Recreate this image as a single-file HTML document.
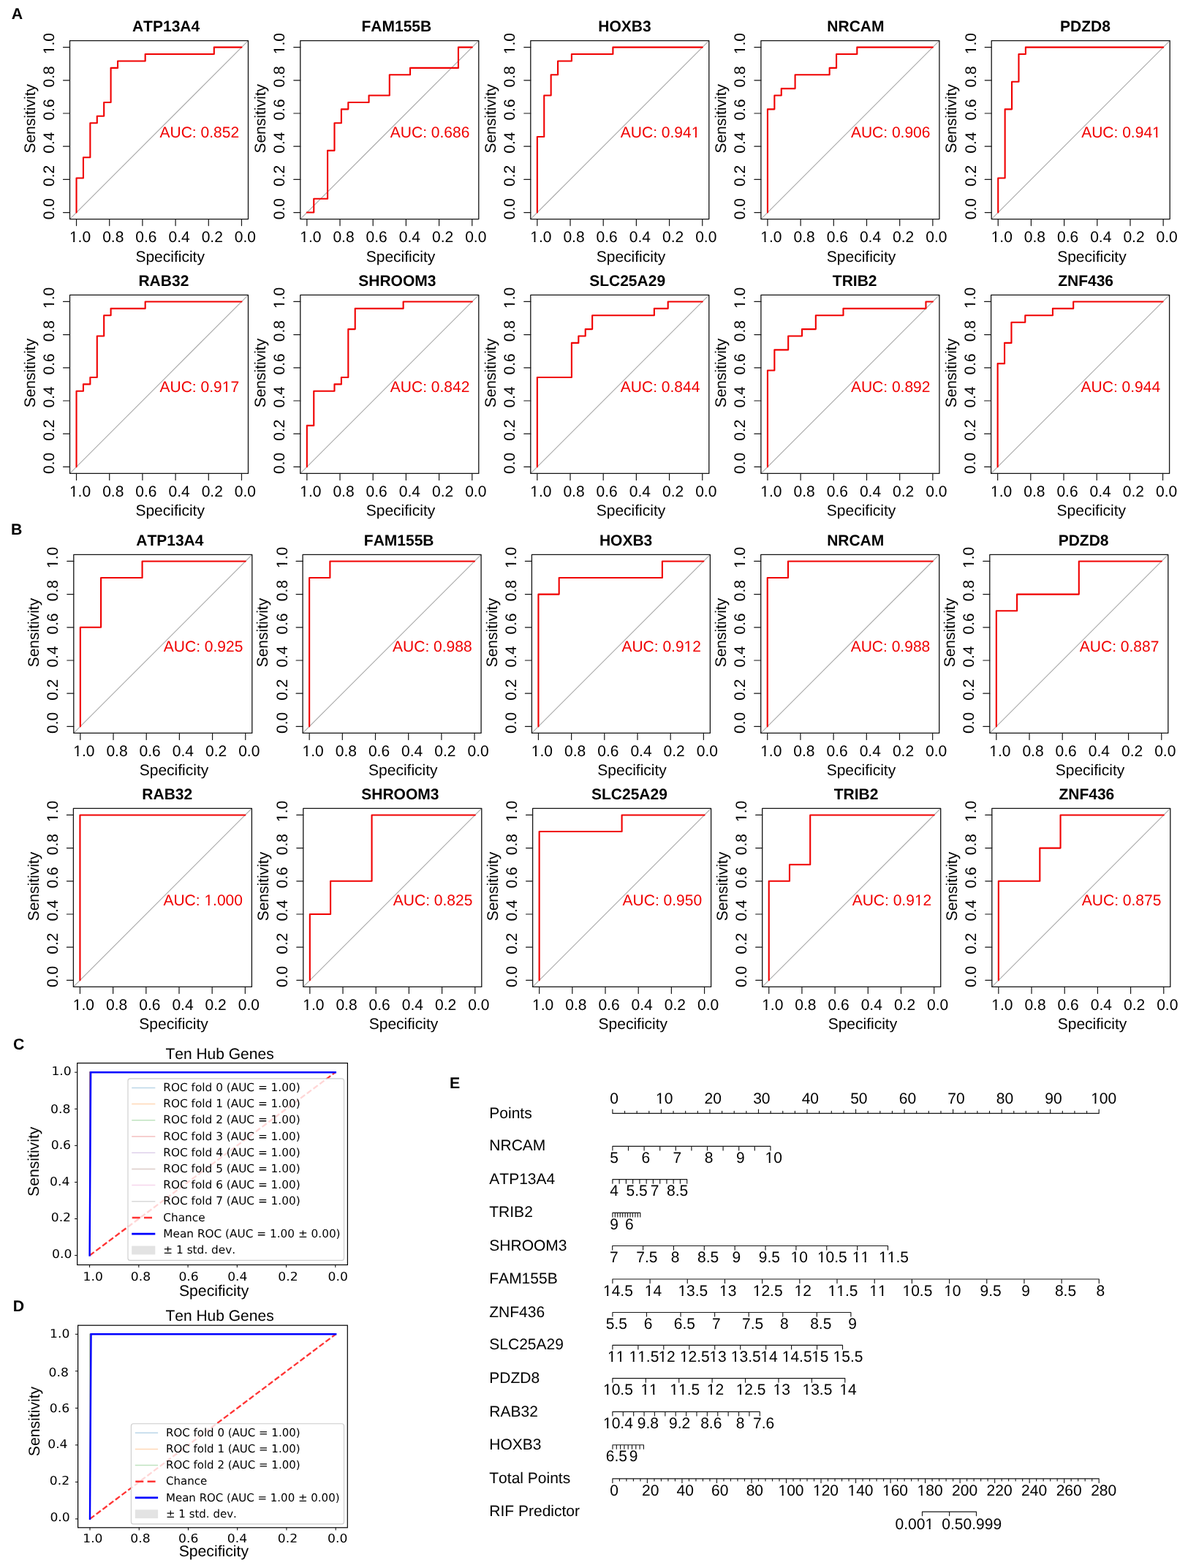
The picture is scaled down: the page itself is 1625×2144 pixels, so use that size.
<!DOCTYPE html>
<html><head><meta charset="utf-8"><title>Figure</title>
<style>html,body{margin:0;padding:0;background:#fff;overflow:hidden;}svg{display:block;}text{font-kerning:none;text-rendering:geometricPrecision;}</style>
</head><body>
<svg width="1625" height="2144" viewBox="0 0 1625 2144">
<rect width="100%" height="100%" fill="#fff"/>
<g font-family="'Liberation Sans', Arial, sans-serif" font-size="21" fill="#000">
<text x="15.8" y="25.6" font-weight="bold" font-size="21.3">A</text>
<text x="14.9" y="730.5" font-weight="bold" font-size="21.3">B</text>
<line x1="95.5" y1="299.6" x2="339.5" y2="55.6" stroke="#a9a9a9" stroke-width="1.1"/>
<path d="M104.54 290.56 L104.54 243.5 L113.95 243.5 L113.95 215.25 L123.36 215.25 L123.36 168.19 L132.78 168.19 L132.78 158.77 L142.19 158.77 L142.19 139.95 L151.6 139.95 L151.6 92.88 L161.02 92.88 L161.02 83.46 L198.67 83.46 L198.67 74.05 L292.81 74.05 L292.81 64.64 L330.46 64.64" fill="none" stroke="#f00000" stroke-width="2.1" stroke-linejoin="round" stroke-linecap="round"/>
<rect x="95.5" y="55.6" width="244" height="244" fill="none" stroke="#141414" stroke-width="1.3" stroke-linejoin="round"/>
<path d="M330.46 299.6v9M86.5 290.56h9M285.28 299.6v9M86.5 245.38h9M240.09 299.6v9M86.5 200.19h9M194.91 299.6v9M86.5 155.01h9M149.72 299.6v9M86.5 109.82h9M104.54 299.6v9M86.5 64.64h9" stroke="#161616" stroke-width="1.2" stroke-linecap="round" fill="none"/>
<text x="320.87" y="331.1">0.0</text>
<g transform="translate(74 285.56) rotate(-90)"><text x="-14.6" y="0">0.0</text></g>
<text x="275.68" y="331.1">0.2</text>
<g transform="translate(74 240.38) rotate(-90)"><text x="-14.6" y="0">0.2</text></g>
<text x="230.5" y="331.1">0.4</text>
<g transform="translate(74 195.19) rotate(-90)"><text x="-14.6" y="0">0.4</text></g>
<text x="185.31" y="331.1">0.6</text>
<g transform="translate(74 150.01) rotate(-90)"><text x="-14.6" y="0">0.6</text></g>
<text x="140.13" y="331.1">0.8</text>
<g transform="translate(74 104.82) rotate(-90)"><text x="-14.6" y="0">0.8</text></g>
<text x="94.94" y="331.1">1.0</text><g fill="#ffffff"><rect x="95.74" y="328.63" width="4.4" height="3.37"/><rect x="102.16" y="328.63" width="4.32" height="3.37"/></g>
<g transform="translate(74 59.64) rotate(-90)"><text x="-14.6" y="0">1.0</text><g fill="#ffffff"><rect x="-13.8" y="-2.47" width="4.4" height="3.37"/><rect x="-7.38" y="-2.47" width="4.32" height="3.37"/></g></g>
<text x="232.7" y="357.6" text-anchor="middle">Specificity</text>
<text transform="translate(47.7 162.3) rotate(-90)" text-anchor="middle">Sensitivity</text>
<text x="180.96" y="43" font-weight="bold">ATP13A4</text>
<text x="218.5" y="188.2" fill="#f00000">AUC: 0.852</text>
<line x1="410.8" y1="299.6" x2="654.8" y2="55.6" stroke="#a9a9a9" stroke-width="1.1"/>
<path d="M419.84 290.56 L429.25 290.56 L429.25 271.74 L448.08 271.74 L448.08 205.84 L457.49 205.84 L457.49 168.19 L466.9 168.19 L466.9 149.36 L476.32 149.36 L476.32 139.95 L504.56 139.95 L504.56 130.53 L532.8 130.53 L532.8 102.29 L561.04 102.29 L561.04 92.88 L626.94 92.88 L626.94 64.64 L645.76 64.64" fill="none" stroke="#f00000" stroke-width="2.1" stroke-linejoin="round" stroke-linecap="round"/>
<rect x="410.8" y="55.6" width="244" height="244" fill="none" stroke="#141414" stroke-width="1.3" stroke-linejoin="round"/>
<path d="M645.76 299.6v9M401.8 290.56h9M600.58 299.6v9M401.8 245.38h9M555.39 299.6v9M401.8 200.19h9M510.21 299.6v9M401.8 155.01h9M465.02 299.6v9M401.8 109.82h9M419.84 299.6v9M401.8 64.64h9" stroke="#161616" stroke-width="1.2" stroke-linecap="round" fill="none"/>
<text x="636.17" y="331.1">0.0</text>
<g transform="translate(389.3 285.56) rotate(-90)"><text x="-14.6" y="0">0.0</text></g>
<text x="590.98" y="331.1">0.2</text>
<g transform="translate(389.3 240.38) rotate(-90)"><text x="-14.6" y="0">0.2</text></g>
<text x="545.8" y="331.1">0.4</text>
<g transform="translate(389.3 195.19) rotate(-90)"><text x="-14.6" y="0">0.4</text></g>
<text x="500.61" y="331.1">0.6</text>
<g transform="translate(389.3 150.01) rotate(-90)"><text x="-14.6" y="0">0.6</text></g>
<text x="455.43" y="331.1">0.8</text>
<g transform="translate(389.3 104.82) rotate(-90)"><text x="-14.6" y="0">0.8</text></g>
<text x="410.24" y="331.1">1.0</text><g fill="#ffffff"><rect x="411.04" y="328.63" width="4.4" height="3.37"/><rect x="417.46" y="328.63" width="4.32" height="3.37"/></g>
<g transform="translate(389.3 59.64) rotate(-90)"><text x="-14.6" y="0">1.0</text><g fill="#ffffff"><rect x="-13.8" y="-2.47" width="4.4" height="3.37"/><rect x="-7.38" y="-2.47" width="4.32" height="3.37"/></g></g>
<text x="548" y="357.6" text-anchor="middle">Specificity</text>
<text transform="translate(363 162.3) rotate(-90)" text-anchor="middle">Sensitivity</text>
<text x="494.52" y="43" font-weight="bold">FAM155B</text>
<text x="533.8" y="188.2" fill="#f00000">AUC: 0.686</text>
<line x1="725.8" y1="299.6" x2="969.8" y2="55.6" stroke="#a9a9a9" stroke-width="1.1"/>
<path d="M734.84 290.56 L734.84 187.01 L744.25 187.01 L744.25 130.53 L753.66 130.53 L753.66 102.29 L763.08 102.29 L763.08 83.46 L781.9 83.46 L781.9 74.05 L838.39 74.05 L838.39 64.64 L960.76 64.64" fill="none" stroke="#f00000" stroke-width="2.1" stroke-linejoin="round" stroke-linecap="round"/>
<rect x="725.8" y="55.6" width="244" height="244" fill="none" stroke="#141414" stroke-width="1.3" stroke-linejoin="round"/>
<path d="M960.76 299.6v9M716.8 290.56h9M915.58 299.6v9M716.8 245.38h9M870.39 299.6v9M716.8 200.19h9M825.21 299.6v9M716.8 155.01h9M780.02 299.6v9M716.8 109.82h9M734.84 299.6v9M716.8 64.64h9" stroke="#161616" stroke-width="1.2" stroke-linecap="round" fill="none"/>
<text x="951.17" y="331.1">0.0</text>
<g transform="translate(704.3 285.56) rotate(-90)"><text x="-14.6" y="0">0.0</text></g>
<text x="905.98" y="331.1">0.2</text>
<g transform="translate(704.3 240.38) rotate(-90)"><text x="-14.6" y="0">0.2</text></g>
<text x="860.8" y="331.1">0.4</text>
<g transform="translate(704.3 195.19) rotate(-90)"><text x="-14.6" y="0">0.4</text></g>
<text x="815.61" y="331.1">0.6</text>
<g transform="translate(704.3 150.01) rotate(-90)"><text x="-14.6" y="0">0.6</text></g>
<text x="770.43" y="331.1">0.8</text>
<g transform="translate(704.3 104.82) rotate(-90)"><text x="-14.6" y="0">0.8</text></g>
<text x="725.24" y="331.1">1.0</text><g fill="#ffffff"><rect x="726.04" y="328.63" width="4.4" height="3.37"/><rect x="732.46" y="328.63" width="4.32" height="3.37"/></g>
<g transform="translate(704.3 59.64) rotate(-90)"><text x="-14.6" y="0">1.0</text><g fill="#ffffff"><rect x="-13.8" y="-2.47" width="4.4" height="3.37"/><rect x="-7.38" y="-2.47" width="4.32" height="3.37"/></g></g>
<text x="863" y="357.6" text-anchor="middle">Specificity</text>
<text transform="translate(678 162.3) rotate(-90)" text-anchor="middle">Sensitivity</text>
<text x="818.32" y="43" font-weight="bold">HOXB3</text>
<text x="848.8" y="188.2" fill="#f00000">AUC: 0.941</text><g fill="#ffffff"><rect x="946.48" y="185.73" width="4.4" height="3.37"/><rect x="952.9" y="185.73" width="4.32" height="3.37"/></g>
<line x1="1040.9" y1="299.6" x2="1284.9" y2="55.6" stroke="#a9a9a9" stroke-width="1.1"/>
<path d="M1049.94 290.56 L1049.94 149.36 L1059.35 149.36 L1059.35 130.53 L1068.76 130.53 L1068.76 121.12 L1087.59 121.12 L1087.59 102.29 L1134.66 102.29 L1134.66 92.88 L1144.07 92.88 L1144.07 74.05 L1172.31 74.05 L1172.31 64.64 L1275.86 64.64" fill="none" stroke="#f00000" stroke-width="2.1" stroke-linejoin="round" stroke-linecap="round"/>
<rect x="1040.9" y="55.6" width="244" height="244" fill="none" stroke="#141414" stroke-width="1.3" stroke-linejoin="round"/>
<path d="M1275.86 299.6v9M1031.9 290.56h9M1230.68 299.6v9M1031.9 245.38h9M1185.49 299.6v9M1031.9 200.19h9M1140.31 299.6v9M1031.9 155.01h9M1095.12 299.6v9M1031.9 109.82h9M1049.94 299.6v9M1031.9 64.64h9" stroke="#161616" stroke-width="1.2" stroke-linecap="round" fill="none"/>
<text x="1266.27" y="331.1">0.0</text>
<g transform="translate(1019.4 285.56) rotate(-90)"><text x="-14.6" y="0">0.0</text></g>
<text x="1221.08" y="331.1">0.2</text>
<g transform="translate(1019.4 240.38) rotate(-90)"><text x="-14.6" y="0">0.2</text></g>
<text x="1175.9" y="331.1">0.4</text>
<g transform="translate(1019.4 195.19) rotate(-90)"><text x="-14.6" y="0">0.4</text></g>
<text x="1130.71" y="331.1">0.6</text>
<g transform="translate(1019.4 150.01) rotate(-90)"><text x="-14.6" y="0">0.6</text></g>
<text x="1085.53" y="331.1">0.8</text>
<g transform="translate(1019.4 104.82) rotate(-90)"><text x="-14.6" y="0">0.8</text></g>
<text x="1040.34" y="331.1">1.0</text><g fill="#ffffff"><rect x="1041.14" y="328.63" width="4.4" height="3.37"/><rect x="1047.56" y="328.63" width="4.32" height="3.37"/></g>
<g transform="translate(1019.4 59.64) rotate(-90)"><text x="-14.6" y="0">1.0</text><g fill="#ffffff"><rect x="-13.8" y="-2.47" width="4.4" height="3.37"/><rect x="-7.38" y="-2.47" width="4.32" height="3.37"/></g></g>
<text x="1178.1" y="357.6" text-anchor="middle">Specificity</text>
<text transform="translate(993.1 162.3) rotate(-90)" text-anchor="middle">Sensitivity</text>
<text x="1131.34" y="43" font-weight="bold">NRCAM</text>
<text x="1163.9" y="188.2" fill="#f00000">AUC: 0.906</text>
<line x1="1356.2" y1="299.6" x2="1600.2" y2="55.6" stroke="#a9a9a9" stroke-width="1.1"/>
<path d="M1365.24 290.56 L1365.24 243.5 L1374.65 243.5 L1374.65 149.36 L1384.06 149.36 L1384.06 111.7 L1393.48 111.7 L1393.48 74.05 L1402.89 74.05 L1402.89 64.64 L1591.16 64.64" fill="none" stroke="#f00000" stroke-width="2.1" stroke-linejoin="round" stroke-linecap="round"/>
<rect x="1356.2" y="55.6" width="244" height="244" fill="none" stroke="#141414" stroke-width="1.3" stroke-linejoin="round"/>
<path d="M1591.16 299.6v9M1347.2 290.56h9M1545.98 299.6v9M1347.2 245.38h9M1500.79 299.6v9M1347.2 200.19h9M1455.61 299.6v9M1347.2 155.01h9M1410.42 299.6v9M1347.2 109.82h9M1365.24 299.6v9M1347.2 64.64h9" stroke="#161616" stroke-width="1.2" stroke-linecap="round" fill="none"/>
<text x="1581.57" y="331.1">0.0</text>
<g transform="translate(1334.7 285.56) rotate(-90)"><text x="-14.6" y="0">0.0</text></g>
<text x="1536.38" y="331.1">0.2</text>
<g transform="translate(1334.7 240.38) rotate(-90)"><text x="-14.6" y="0">0.2</text></g>
<text x="1491.2" y="331.1">0.4</text>
<g transform="translate(1334.7 195.19) rotate(-90)"><text x="-14.6" y="0">0.4</text></g>
<text x="1446.01" y="331.1">0.6</text>
<g transform="translate(1334.7 150.01) rotate(-90)"><text x="-14.6" y="0">0.6</text></g>
<text x="1400.83" y="331.1">0.8</text>
<g transform="translate(1334.7 104.82) rotate(-90)"><text x="-14.6" y="0">0.8</text></g>
<text x="1355.64" y="331.1">1.0</text><g fill="#ffffff"><rect x="1356.44" y="328.63" width="4.4" height="3.37"/><rect x="1362.86" y="328.63" width="4.32" height="3.37"/></g>
<g transform="translate(1334.7 59.64) rotate(-90)"><text x="-14.6" y="0">1.0</text><g fill="#ffffff"><rect x="-13.8" y="-2.47" width="4.4" height="3.37"/><rect x="-7.38" y="-2.47" width="4.32" height="3.37"/></g></g>
<text x="1493.4" y="357.6" text-anchor="middle">Specificity</text>
<text transform="translate(1308.4 162.3) rotate(-90)" text-anchor="middle">Sensitivity</text>
<text x="1450.08" y="43" font-weight="bold">PDZD8</text>
<text x="1479.2" y="188.2" fill="#f00000">AUC: 0.941</text><g fill="#ffffff"><rect x="1576.88" y="185.73" width="4.4" height="3.37"/><rect x="1583.3" y="185.73" width="4.32" height="3.37"/></g>
<line x1="95.5" y1="647.4" x2="339.5" y2="403.4" stroke="#a9a9a9" stroke-width="1.1"/>
<path d="M104.54 638.36 L104.54 534.81 L113.95 534.81 L113.95 525.4 L123.36 525.4 L123.36 515.99 L132.78 515.99 L132.78 459.5 L142.19 459.5 L142.19 431.26 L151.6 431.26 L151.6 421.85 L198.67 421.85 L198.67 412.44 L330.46 412.44" fill="none" stroke="#f00000" stroke-width="2.1" stroke-linejoin="round" stroke-linecap="round"/>
<rect x="95.5" y="403.4" width="244" height="244" fill="none" stroke="#141414" stroke-width="1.3" stroke-linejoin="round"/>
<path d="M330.46 647.4v9M86.5 638.36h9M285.28 647.4v9M86.5 593.18h9M240.09 647.4v9M86.5 547.99h9M194.91 647.4v9M86.5 502.81h9M149.72 647.4v9M86.5 457.62h9M104.54 647.4v9M86.5 412.44h9" stroke="#161616" stroke-width="1.2" stroke-linecap="round" fill="none"/>
<text x="320.87" y="678.9">0.0</text>
<g transform="translate(74 633.36) rotate(-90)"><text x="-14.6" y="0">0.0</text></g>
<text x="275.68" y="678.9">0.2</text>
<g transform="translate(74 588.18) rotate(-90)"><text x="-14.6" y="0">0.2</text></g>
<text x="230.5" y="678.9">0.4</text>
<g transform="translate(74 542.99) rotate(-90)"><text x="-14.6" y="0">0.4</text></g>
<text x="185.31" y="678.9">0.6</text>
<g transform="translate(74 497.81) rotate(-90)"><text x="-14.6" y="0">0.6</text></g>
<text x="140.13" y="678.9">0.8</text>
<g transform="translate(74 452.62) rotate(-90)"><text x="-14.6" y="0">0.8</text></g>
<text x="94.94" y="678.9">1.0</text><g fill="#ffffff"><rect x="95.74" y="676.43" width="4.4" height="3.37"/><rect x="102.16" y="676.43" width="4.32" height="3.37"/></g>
<g transform="translate(74 407.44) rotate(-90)"><text x="-14.6" y="0">1.0</text><g fill="#ffffff"><rect x="-13.8" y="-2.47" width="4.4" height="3.37"/><rect x="-7.38" y="-2.47" width="4.32" height="3.37"/></g></g>
<text x="232.7" y="705.4" text-anchor="middle">Specificity</text>
<text transform="translate(47.7 510.1) rotate(-90)" text-anchor="middle">Sensitivity</text>
<text x="189.46" y="390.8" font-weight="bold">RAB32</text>
<text x="218.5" y="536" fill="#f00000">AUC: 0.917</text><g fill="#ffffff"><rect x="304.5" y="533.53" width="4.4" height="3.37"/><rect x="310.92" y="533.53" width="4.32" height="3.37"/></g>
<line x1="410.8" y1="647.4" x2="654.8" y2="403.4" stroke="#a9a9a9" stroke-width="1.1"/>
<path d="M419.84 638.36 L419.84 581.88 L429.25 581.88 L429.25 534.81 L457.49 534.81 L457.49 525.4 L466.9 525.4 L466.9 515.99 L476.32 515.99 L476.32 450.09 L485.73 450.09 L485.73 421.85 L551.63 421.85 L551.63 412.44 L645.76 412.44" fill="none" stroke="#f00000" stroke-width="2.1" stroke-linejoin="round" stroke-linecap="round"/>
<rect x="410.8" y="403.4" width="244" height="244" fill="none" stroke="#141414" stroke-width="1.3" stroke-linejoin="round"/>
<path d="M645.76 647.4v9M401.8 638.36h9M600.58 647.4v9M401.8 593.18h9M555.39 647.4v9M401.8 547.99h9M510.21 647.4v9M401.8 502.81h9M465.02 647.4v9M401.8 457.62h9M419.84 647.4v9M401.8 412.44h9" stroke="#161616" stroke-width="1.2" stroke-linecap="round" fill="none"/>
<text x="636.17" y="678.9">0.0</text>
<g transform="translate(389.3 633.36) rotate(-90)"><text x="-14.6" y="0">0.0</text></g>
<text x="590.98" y="678.9">0.2</text>
<g transform="translate(389.3 588.18) rotate(-90)"><text x="-14.6" y="0">0.2</text></g>
<text x="545.8" y="678.9">0.4</text>
<g transform="translate(389.3 542.99) rotate(-90)"><text x="-14.6" y="0">0.4</text></g>
<text x="500.61" y="678.9">0.6</text>
<g transform="translate(389.3 497.81) rotate(-90)"><text x="-14.6" y="0">0.6</text></g>
<text x="455.43" y="678.9">0.8</text>
<g transform="translate(389.3 452.62) rotate(-90)"><text x="-14.6" y="0">0.8</text></g>
<text x="410.24" y="678.9">1.0</text><g fill="#ffffff"><rect x="411.04" y="676.43" width="4.4" height="3.37"/><rect x="417.46" y="676.43" width="4.32" height="3.37"/></g>
<g transform="translate(389.3 407.44) rotate(-90)"><text x="-14.6" y="0">1.0</text><g fill="#ffffff"><rect x="-13.8" y="-2.47" width="4.4" height="3.37"/><rect x="-7.38" y="-2.47" width="4.32" height="3.37"/></g></g>
<text x="548" y="705.4" text-anchor="middle">Specificity</text>
<text transform="translate(363 510.1) rotate(-90)" text-anchor="middle">Sensitivity</text>
<text x="490.28" y="390.8" font-weight="bold">SHROOM3</text>
<text x="533.8" y="536" fill="#f00000">AUC: 0.842</text>
<line x1="725.8" y1="647.4" x2="969.8" y2="403.4" stroke="#a9a9a9" stroke-width="1.1"/>
<path d="M734.84 638.36 L734.84 515.99 L781.9 515.99 L781.9 468.92 L791.32 468.92 L791.32 459.5 L800.73 459.5 L800.73 450.09 L810.15 450.09 L810.15 431.26 L894.87 431.26 L894.87 421.85 L913.7 421.85 L913.7 412.44 L960.76 412.44" fill="none" stroke="#f00000" stroke-width="2.1" stroke-linejoin="round" stroke-linecap="round"/>
<rect x="725.8" y="403.4" width="244" height="244" fill="none" stroke="#141414" stroke-width="1.3" stroke-linejoin="round"/>
<path d="M960.76 647.4v9M716.8 638.36h9M915.58 647.4v9M716.8 593.18h9M870.39 647.4v9M716.8 547.99h9M825.21 647.4v9M716.8 502.81h9M780.02 647.4v9M716.8 457.62h9M734.84 647.4v9M716.8 412.44h9" stroke="#161616" stroke-width="1.2" stroke-linecap="round" fill="none"/>
<text x="951.17" y="678.9">0.0</text>
<g transform="translate(704.3 633.36) rotate(-90)"><text x="-14.6" y="0">0.0</text></g>
<text x="905.98" y="678.9">0.2</text>
<g transform="translate(704.3 588.18) rotate(-90)"><text x="-14.6" y="0">0.2</text></g>
<text x="860.8" y="678.9">0.4</text>
<g transform="translate(704.3 542.99) rotate(-90)"><text x="-14.6" y="0">0.4</text></g>
<text x="815.61" y="678.9">0.6</text>
<g transform="translate(704.3 497.81) rotate(-90)"><text x="-14.6" y="0">0.6</text></g>
<text x="770.43" y="678.9">0.8</text>
<g transform="translate(704.3 452.62) rotate(-90)"><text x="-14.6" y="0">0.8</text></g>
<text x="725.24" y="678.9">1.0</text><g fill="#ffffff"><rect x="726.04" y="676.43" width="4.4" height="3.37"/><rect x="732.46" y="676.43" width="4.32" height="3.37"/></g>
<g transform="translate(704.3 407.44) rotate(-90)"><text x="-14.6" y="0">1.0</text><g fill="#ffffff"><rect x="-13.8" y="-2.47" width="4.4" height="3.37"/><rect x="-7.38" y="-2.47" width="4.32" height="3.37"/></g></g>
<text x="863" y="705.4" text-anchor="middle">Specificity</text>
<text transform="translate(678 510.1) rotate(-90)" text-anchor="middle">Sensitivity</text>
<text x="806.2" y="390.8" font-weight="bold">SLC25A29</text>
<text x="848.8" y="536" fill="#f00000">AUC: 0.844</text>
<line x1="1040.9" y1="647.4" x2="1284.9" y2="403.4" stroke="#a9a9a9" stroke-width="1.1"/>
<path d="M1049.94 638.36 L1049.94 506.57 L1059.35 506.57 L1059.35 478.33 L1078.18 478.33 L1078.18 459.5 L1097 459.5 L1097 450.09 L1115.83 450.09 L1115.83 431.26 L1153.49 431.26 L1153.49 421.85 L1266.45 421.85 L1266.45 412.44 L1275.86 412.44" fill="none" stroke="#f00000" stroke-width="2.1" stroke-linejoin="round" stroke-linecap="round"/>
<rect x="1040.9" y="403.4" width="244" height="244" fill="none" stroke="#141414" stroke-width="1.3" stroke-linejoin="round"/>
<path d="M1275.86 647.4v9M1031.9 638.36h9M1230.68 647.4v9M1031.9 593.18h9M1185.49 647.4v9M1031.9 547.99h9M1140.31 647.4v9M1031.9 502.81h9M1095.12 647.4v9M1031.9 457.62h9M1049.94 647.4v9M1031.9 412.44h9" stroke="#161616" stroke-width="1.2" stroke-linecap="round" fill="none"/>
<text x="1266.27" y="678.9">0.0</text>
<g transform="translate(1019.4 633.36) rotate(-90)"><text x="-14.6" y="0">0.0</text></g>
<text x="1221.08" y="678.9">0.2</text>
<g transform="translate(1019.4 588.18) rotate(-90)"><text x="-14.6" y="0">0.2</text></g>
<text x="1175.9" y="678.9">0.4</text>
<g transform="translate(1019.4 542.99) rotate(-90)"><text x="-14.6" y="0">0.4</text></g>
<text x="1130.71" y="678.9">0.6</text>
<g transform="translate(1019.4 497.81) rotate(-90)"><text x="-14.6" y="0">0.6</text></g>
<text x="1085.53" y="678.9">0.8</text>
<g transform="translate(1019.4 452.62) rotate(-90)"><text x="-14.6" y="0">0.8</text></g>
<text x="1040.34" y="678.9">1.0</text><g fill="#ffffff"><rect x="1041.14" y="676.43" width="4.4" height="3.37"/><rect x="1047.56" y="676.43" width="4.32" height="3.37"/></g>
<g transform="translate(1019.4 407.44) rotate(-90)"><text x="-14.6" y="0">1.0</text><g fill="#ffffff"><rect x="-13.8" y="-2.47" width="4.4" height="3.37"/><rect x="-7.38" y="-2.47" width="4.32" height="3.37"/></g></g>
<text x="1178.1" y="705.4" text-anchor="middle">Specificity</text>
<text transform="translate(993.1 510.1) rotate(-90)" text-anchor="middle">Sensitivity</text>
<text x="1138.86" y="390.8" font-weight="bold">TRIB2</text>
<text x="1163.9" y="536" fill="#f00000">AUC: 0.892</text>
<line x1="1355.6" y1="647.4" x2="1599.6" y2="403.4" stroke="#a9a9a9" stroke-width="1.1"/>
<path d="M1364.64 638.36 L1364.64 497.16 L1374.05 497.16 L1374.05 468.92 L1383.46 468.92 L1383.46 440.68 L1402.29 440.68 L1402.29 431.26 L1439.95 431.26 L1439.95 421.85 L1468.19 421.85 L1468.19 412.44 L1590.56 412.44" fill="none" stroke="#f00000" stroke-width="2.1" stroke-linejoin="round" stroke-linecap="round"/>
<rect x="1355.6" y="403.4" width="244" height="244" fill="none" stroke="#141414" stroke-width="1.3" stroke-linejoin="round"/>
<path d="M1590.56 647.4v9M1346.6 638.36h9M1545.38 647.4v9M1346.6 593.18h9M1500.19 647.4v9M1346.6 547.99h9M1455.01 647.4v9M1346.6 502.81h9M1409.82 647.4v9M1346.6 457.62h9M1364.64 647.4v9M1346.6 412.44h9" stroke="#161616" stroke-width="1.2" stroke-linecap="round" fill="none"/>
<text x="1580.97" y="678.9">0.0</text>
<g transform="translate(1334.1 633.36) rotate(-90)"><text x="-14.6" y="0">0.0</text></g>
<text x="1535.78" y="678.9">0.2</text>
<g transform="translate(1334.1 588.18) rotate(-90)"><text x="-14.6" y="0">0.2</text></g>
<text x="1490.6" y="678.9">0.4</text>
<g transform="translate(1334.1 542.99) rotate(-90)"><text x="-14.6" y="0">0.4</text></g>
<text x="1445.41" y="678.9">0.6</text>
<g transform="translate(1334.1 497.81) rotate(-90)"><text x="-14.6" y="0">0.6</text></g>
<text x="1400.23" y="678.9">0.8</text>
<g transform="translate(1334.1 452.62) rotate(-90)"><text x="-14.6" y="0">0.8</text></g>
<text x="1355.04" y="678.9">1.0</text><g fill="#ffffff"><rect x="1355.84" y="676.43" width="4.4" height="3.37"/><rect x="1362.26" y="676.43" width="4.32" height="3.37"/></g>
<g transform="translate(1334.1 407.44) rotate(-90)"><text x="-14.6" y="0">1.0</text><g fill="#ffffff"><rect x="-13.8" y="-2.47" width="4.4" height="3.37"/><rect x="-7.38" y="-2.47" width="4.32" height="3.37"/></g></g>
<text x="1492.8" y="705.4" text-anchor="middle">Specificity</text>
<text transform="translate(1307.8 510.1) rotate(-90)" text-anchor="middle">Sensitivity</text>
<text x="1447.2" y="390.8" font-weight="bold">ZNF436</text>
<text x="1478.6" y="536" fill="#f00000">AUC: 0.944</text>
<line x1="100.8" y1="1002.4" x2="344.8" y2="758.4" stroke="#a9a9a9" stroke-width="1.1"/>
<path d="M109.84 993.36 L109.84 857.81 L138.08 857.81 L138.08 790.03 L194.56 790.03 L194.56 767.44 L335.76 767.44" fill="none" stroke="#f00000" stroke-width="2.1" stroke-linejoin="round" stroke-linecap="round"/>
<rect x="100.8" y="758.4" width="244" height="244" fill="none" stroke="#141414" stroke-width="1.3" stroke-linejoin="round"/>
<path d="M335.76 1002.4v9M91.8 993.36h9M290.58 1002.4v9M91.8 948.18h9M245.39 1002.4v9M91.8 902.99h9M200.21 1002.4v9M91.8 857.81h9M155.02 1002.4v9M91.8 812.62h9M109.84 1002.4v9M91.8 767.44h9" stroke="#161616" stroke-width="1.2" stroke-linecap="round" fill="none"/>
<text x="326.17" y="1033.9">0.0</text>
<g transform="translate(79.3 988.36) rotate(-90)"><text x="-14.6" y="0">0.0</text></g>
<text x="280.98" y="1033.9">0.2</text>
<g transform="translate(79.3 943.18) rotate(-90)"><text x="-14.6" y="0">0.2</text></g>
<text x="235.8" y="1033.9">0.4</text>
<g transform="translate(79.3 897.99) rotate(-90)"><text x="-14.6" y="0">0.4</text></g>
<text x="190.61" y="1033.9">0.6</text>
<g transform="translate(79.3 852.81) rotate(-90)"><text x="-14.6" y="0">0.6</text></g>
<text x="145.43" y="1033.9">0.8</text>
<g transform="translate(79.3 807.62) rotate(-90)"><text x="-14.6" y="0">0.8</text></g>
<text x="100.24" y="1033.9">1.0</text><g fill="#ffffff"><rect x="101.04" y="1031.43" width="4.4" height="3.37"/><rect x="107.46" y="1031.43" width="4.32" height="3.37"/></g>
<g transform="translate(79.3 762.44) rotate(-90)"><text x="-14.6" y="0">1.0</text><g fill="#ffffff"><rect x="-13.8" y="-2.47" width="4.4" height="3.37"/><rect x="-7.38" y="-2.47" width="4.32" height="3.37"/></g></g>
<text x="238" y="1060.4" text-anchor="middle">Specificity</text>
<text transform="translate(53 865.1) rotate(-90)" text-anchor="middle">Sensitivity</text>
<text x="186.26" y="745.8" font-weight="bold">ATP13A4</text>
<text x="223.8" y="891" fill="#f00000">AUC: 0.925</text>
<line x1="414.1" y1="1002.4" x2="658.1" y2="758.4" stroke="#a9a9a9" stroke-width="1.1"/>
<path d="M423.14 993.36 L423.14 790.03 L451.38 790.03 L451.38 767.44 L649.06 767.44" fill="none" stroke="#f00000" stroke-width="2.1" stroke-linejoin="round" stroke-linecap="round"/>
<rect x="414.1" y="758.4" width="244" height="244" fill="none" stroke="#141414" stroke-width="1.3" stroke-linejoin="round"/>
<path d="M649.06 1002.4v9M405.1 993.36h9M603.88 1002.4v9M405.1 948.18h9M558.69 1002.4v9M405.1 902.99h9M513.51 1002.4v9M405.1 857.81h9M468.32 1002.4v9M405.1 812.62h9M423.14 1002.4v9M405.1 767.44h9" stroke="#161616" stroke-width="1.2" stroke-linecap="round" fill="none"/>
<text x="639.47" y="1033.9">0.0</text>
<g transform="translate(392.6 988.36) rotate(-90)"><text x="-14.6" y="0">0.0</text></g>
<text x="594.28" y="1033.9">0.2</text>
<g transform="translate(392.6 943.18) rotate(-90)"><text x="-14.6" y="0">0.2</text></g>
<text x="549.1" y="1033.9">0.4</text>
<g transform="translate(392.6 897.99) rotate(-90)"><text x="-14.6" y="0">0.4</text></g>
<text x="503.91" y="1033.9">0.6</text>
<g transform="translate(392.6 852.81) rotate(-90)"><text x="-14.6" y="0">0.6</text></g>
<text x="458.73" y="1033.9">0.8</text>
<g transform="translate(392.6 807.62) rotate(-90)"><text x="-14.6" y="0">0.8</text></g>
<text x="413.54" y="1033.9">1.0</text><g fill="#ffffff"><rect x="414.34" y="1031.43" width="4.4" height="3.37"/><rect x="420.76" y="1031.43" width="4.32" height="3.37"/></g>
<g transform="translate(392.6 762.44) rotate(-90)"><text x="-14.6" y="0">1.0</text><g fill="#ffffff"><rect x="-13.8" y="-2.47" width="4.4" height="3.37"/><rect x="-7.38" y="-2.47" width="4.32" height="3.37"/></g></g>
<text x="551.3" y="1060.4" text-anchor="middle">Specificity</text>
<text transform="translate(366.3 865.1) rotate(-90)" text-anchor="middle">Sensitivity</text>
<text x="497.82" y="745.8" font-weight="bold">FAM155B</text>
<text x="537.1" y="891" fill="#f00000">AUC: 0.988</text>
<line x1="727.4" y1="1002.4" x2="971.4" y2="758.4" stroke="#a9a9a9" stroke-width="1.1"/>
<path d="M736.44 993.36 L736.44 812.62 L764.68 812.62 L764.68 790.03 L905.88 790.03 L905.88 767.44 L962.36 767.44" fill="none" stroke="#f00000" stroke-width="2.1" stroke-linejoin="round" stroke-linecap="round"/>
<rect x="727.4" y="758.4" width="244" height="244" fill="none" stroke="#141414" stroke-width="1.3" stroke-linejoin="round"/>
<path d="M962.36 1002.4v9M718.4 993.36h9M917.18 1002.4v9M718.4 948.18h9M871.99 1002.4v9M718.4 902.99h9M826.81 1002.4v9M718.4 857.81h9M781.62 1002.4v9M718.4 812.62h9M736.44 1002.4v9M718.4 767.44h9" stroke="#161616" stroke-width="1.2" stroke-linecap="round" fill="none"/>
<text x="952.77" y="1033.9">0.0</text>
<g transform="translate(705.9 988.36) rotate(-90)"><text x="-14.6" y="0">0.0</text></g>
<text x="907.58" y="1033.9">0.2</text>
<g transform="translate(705.9 943.18) rotate(-90)"><text x="-14.6" y="0">0.2</text></g>
<text x="862.4" y="1033.9">0.4</text>
<g transform="translate(705.9 897.99) rotate(-90)"><text x="-14.6" y="0">0.4</text></g>
<text x="817.21" y="1033.9">0.6</text>
<g transform="translate(705.9 852.81) rotate(-90)"><text x="-14.6" y="0">0.6</text></g>
<text x="772.03" y="1033.9">0.8</text>
<g transform="translate(705.9 807.62) rotate(-90)"><text x="-14.6" y="0">0.8</text></g>
<text x="726.84" y="1033.9">1.0</text><g fill="#ffffff"><rect x="727.64" y="1031.43" width="4.4" height="3.37"/><rect x="734.06" y="1031.43" width="4.32" height="3.37"/></g>
<g transform="translate(705.9 762.44) rotate(-90)"><text x="-14.6" y="0">1.0</text><g fill="#ffffff"><rect x="-13.8" y="-2.47" width="4.4" height="3.37"/><rect x="-7.38" y="-2.47" width="4.32" height="3.37"/></g></g>
<text x="864.6" y="1060.4" text-anchor="middle">Specificity</text>
<text transform="translate(679.6 865.1) rotate(-90)" text-anchor="middle">Sensitivity</text>
<text x="819.92" y="745.8" font-weight="bold">HOXB3</text>
<text x="850.4" y="891" fill="#f00000">AUC: 0.912</text><g fill="#ffffff"><rect x="936.4" y="888.53" width="4.4" height="3.37"/><rect x="942.82" y="888.53" width="4.32" height="3.37"/></g>
<line x1="1040.7" y1="1002.4" x2="1284.7" y2="758.4" stroke="#a9a9a9" stroke-width="1.1"/>
<path d="M1049.74 993.36 L1049.74 790.03 L1077.98 790.03 L1077.98 767.44 L1275.66 767.44" fill="none" stroke="#f00000" stroke-width="2.1" stroke-linejoin="round" stroke-linecap="round"/>
<rect x="1040.7" y="758.4" width="244" height="244" fill="none" stroke="#141414" stroke-width="1.3" stroke-linejoin="round"/>
<path d="M1275.66 1002.4v9M1031.7 993.36h9M1230.48 1002.4v9M1031.7 948.18h9M1185.29 1002.4v9M1031.7 902.99h9M1140.11 1002.4v9M1031.7 857.81h9M1094.92 1002.4v9M1031.7 812.62h9M1049.74 1002.4v9M1031.7 767.44h9" stroke="#161616" stroke-width="1.2" stroke-linecap="round" fill="none"/>
<text x="1266.07" y="1033.9">0.0</text>
<g transform="translate(1019.2 988.36) rotate(-90)"><text x="-14.6" y="0">0.0</text></g>
<text x="1220.88" y="1033.9">0.2</text>
<g transform="translate(1019.2 943.18) rotate(-90)"><text x="-14.6" y="0">0.2</text></g>
<text x="1175.7" y="1033.9">0.4</text>
<g transform="translate(1019.2 897.99) rotate(-90)"><text x="-14.6" y="0">0.4</text></g>
<text x="1130.51" y="1033.9">0.6</text>
<g transform="translate(1019.2 852.81) rotate(-90)"><text x="-14.6" y="0">0.6</text></g>
<text x="1085.33" y="1033.9">0.8</text>
<g transform="translate(1019.2 807.62) rotate(-90)"><text x="-14.6" y="0">0.8</text></g>
<text x="1040.14" y="1033.9">1.0</text><g fill="#ffffff"><rect x="1040.94" y="1031.43" width="4.4" height="3.37"/><rect x="1047.36" y="1031.43" width="4.32" height="3.37"/></g>
<g transform="translate(1019.2 762.44) rotate(-90)"><text x="-14.6" y="0">1.0</text><g fill="#ffffff"><rect x="-13.8" y="-2.47" width="4.4" height="3.37"/><rect x="-7.38" y="-2.47" width="4.32" height="3.37"/></g></g>
<text x="1177.9" y="1060.4" text-anchor="middle">Specificity</text>
<text transform="translate(992.9 865.1) rotate(-90)" text-anchor="middle">Sensitivity</text>
<text x="1131.14" y="745.8" font-weight="bold">NRCAM</text>
<text x="1163.7" y="891" fill="#f00000">AUC: 0.988</text>
<line x1="1353.8" y1="1002.4" x2="1597.8" y2="758.4" stroke="#a9a9a9" stroke-width="1.1"/>
<path d="M1362.84 993.36 L1362.84 835.21 L1391.08 835.21 L1391.08 812.62 L1475.8 812.62 L1475.8 767.44 L1588.76 767.44" fill="none" stroke="#f00000" stroke-width="2.1" stroke-linejoin="round" stroke-linecap="round"/>
<rect x="1353.8" y="758.4" width="244" height="244" fill="none" stroke="#141414" stroke-width="1.3" stroke-linejoin="round"/>
<path d="M1588.76 1002.4v9M1344.8 993.36h9M1543.58 1002.4v9M1344.8 948.18h9M1498.39 1002.4v9M1344.8 902.99h9M1453.21 1002.4v9M1344.8 857.81h9M1408.02 1002.4v9M1344.8 812.62h9M1362.84 1002.4v9M1344.8 767.44h9" stroke="#161616" stroke-width="1.2" stroke-linecap="round" fill="none"/>
<text x="1579.17" y="1033.9">0.0</text>
<g transform="translate(1332.3 988.36) rotate(-90)"><text x="-14.6" y="0">0.0</text></g>
<text x="1533.98" y="1033.9">0.2</text>
<g transform="translate(1332.3 943.18) rotate(-90)"><text x="-14.6" y="0">0.2</text></g>
<text x="1488.8" y="1033.9">0.4</text>
<g transform="translate(1332.3 897.99) rotate(-90)"><text x="-14.6" y="0">0.4</text></g>
<text x="1443.61" y="1033.9">0.6</text>
<g transform="translate(1332.3 852.81) rotate(-90)"><text x="-14.6" y="0">0.6</text></g>
<text x="1398.43" y="1033.9">0.8</text>
<g transform="translate(1332.3 807.62) rotate(-90)"><text x="-14.6" y="0">0.8</text></g>
<text x="1353.24" y="1033.9">1.0</text><g fill="#ffffff"><rect x="1354.04" y="1031.43" width="4.4" height="3.37"/><rect x="1360.46" y="1031.43" width="4.32" height="3.37"/></g>
<g transform="translate(1332.3 762.44) rotate(-90)"><text x="-14.6" y="0">1.0</text><g fill="#ffffff"><rect x="-13.8" y="-2.47" width="4.4" height="3.37"/><rect x="-7.38" y="-2.47" width="4.32" height="3.37"/></g></g>
<text x="1491" y="1060.4" text-anchor="middle">Specificity</text>
<text transform="translate(1306 865.1) rotate(-90)" text-anchor="middle">Sensitivity</text>
<text x="1447.68" y="745.8" font-weight="bold">PDZD8</text>
<text x="1476.8" y="891" fill="#f00000">AUC: 0.887</text>
<line x1="100.4" y1="1349.4" x2="344.4" y2="1105.4" stroke="#a9a9a9" stroke-width="1.1"/>
<path d="M109.44 1340.36 L109.44 1114.44 L335.36 1114.44" fill="none" stroke="#f00000" stroke-width="2.1" stroke-linejoin="round" stroke-linecap="round"/>
<rect x="100.4" y="1105.4" width="244" height="244" fill="none" stroke="#141414" stroke-width="1.3" stroke-linejoin="round"/>
<path d="M335.36 1349.4v9M91.4 1340.36h9M290.18 1349.4v9M91.4 1295.18h9M244.99 1349.4v9M91.4 1249.99h9M199.81 1349.4v9M91.4 1204.81h9M154.62 1349.4v9M91.4 1159.62h9M109.44 1349.4v9M91.4 1114.44h9" stroke="#161616" stroke-width="1.2" stroke-linecap="round" fill="none"/>
<text x="325.77" y="1380.9">0.0</text>
<g transform="translate(78.9 1335.36) rotate(-90)"><text x="-14.6" y="0">0.0</text></g>
<text x="280.58" y="1380.9">0.2</text>
<g transform="translate(78.9 1290.18) rotate(-90)"><text x="-14.6" y="0">0.2</text></g>
<text x="235.4" y="1380.9">0.4</text>
<g transform="translate(78.9 1244.99) rotate(-90)"><text x="-14.6" y="0">0.4</text></g>
<text x="190.21" y="1380.9">0.6</text>
<g transform="translate(78.9 1199.81) rotate(-90)"><text x="-14.6" y="0">0.6</text></g>
<text x="145.03" y="1380.9">0.8</text>
<g transform="translate(78.9 1154.62) rotate(-90)"><text x="-14.6" y="0">0.8</text></g>
<text x="99.84" y="1380.9">1.0</text><g fill="#ffffff"><rect x="100.64" y="1378.43" width="4.4" height="3.37"/><rect x="107.06" y="1378.43" width="4.32" height="3.37"/></g>
<g transform="translate(78.9 1109.44) rotate(-90)"><text x="-14.6" y="0">1.0</text><g fill="#ffffff"><rect x="-13.8" y="-2.47" width="4.4" height="3.37"/><rect x="-7.38" y="-2.47" width="4.32" height="3.37"/></g></g>
<text x="237.6" y="1407.4" text-anchor="middle">Specificity</text>
<text transform="translate(52.6 1212.1) rotate(-90)" text-anchor="middle">Sensitivity</text>
<text x="194.36" y="1092.8" font-weight="bold">RAB32</text>
<text x="223.4" y="1238" fill="#f00000">AUC: 1.000</text><g fill="#ffffff"><rect x="280.21" y="1235.53" width="4.4" height="3.37"/><rect x="286.63" y="1235.53" width="4.32" height="3.37"/></g>
<line x1="414.8" y1="1349.4" x2="658.8" y2="1105.4" stroke="#a9a9a9" stroke-width="1.1"/>
<path d="M423.84 1340.36 L423.84 1249.99 L452.08 1249.99 L452.08 1204.81 L508.56 1204.81 L508.56 1114.44 L649.76 1114.44" fill="none" stroke="#f00000" stroke-width="2.1" stroke-linejoin="round" stroke-linecap="round"/>
<rect x="414.8" y="1105.4" width="244" height="244" fill="none" stroke="#141414" stroke-width="1.3" stroke-linejoin="round"/>
<path d="M649.76 1349.4v9M405.8 1340.36h9M604.58 1349.4v9M405.8 1295.18h9M559.39 1349.4v9M405.8 1249.99h9M514.21 1349.4v9M405.8 1204.81h9M469.02 1349.4v9M405.8 1159.62h9M423.84 1349.4v9M405.8 1114.44h9" stroke="#161616" stroke-width="1.2" stroke-linecap="round" fill="none"/>
<text x="640.17" y="1380.9">0.0</text>
<g transform="translate(393.3 1335.36) rotate(-90)"><text x="-14.6" y="0">0.0</text></g>
<text x="594.98" y="1380.9">0.2</text>
<g transform="translate(393.3 1290.18) rotate(-90)"><text x="-14.6" y="0">0.2</text></g>
<text x="549.8" y="1380.9">0.4</text>
<g transform="translate(393.3 1244.99) rotate(-90)"><text x="-14.6" y="0">0.4</text></g>
<text x="504.61" y="1380.9">0.6</text>
<g transform="translate(393.3 1199.81) rotate(-90)"><text x="-14.6" y="0">0.6</text></g>
<text x="459.43" y="1380.9">0.8</text>
<g transform="translate(393.3 1154.62) rotate(-90)"><text x="-14.6" y="0">0.8</text></g>
<text x="414.24" y="1380.9">1.0</text><g fill="#ffffff"><rect x="415.04" y="1378.43" width="4.4" height="3.37"/><rect x="421.46" y="1378.43" width="4.32" height="3.37"/></g>
<g transform="translate(393.3 1109.44) rotate(-90)"><text x="-14.6" y="0">1.0</text><g fill="#ffffff"><rect x="-13.8" y="-2.47" width="4.4" height="3.37"/><rect x="-7.38" y="-2.47" width="4.32" height="3.37"/></g></g>
<text x="552" y="1407.4" text-anchor="middle">Specificity</text>
<text transform="translate(367 1212.1) rotate(-90)" text-anchor="middle">Sensitivity</text>
<text x="494.28" y="1092.8" font-weight="bold">SHROOM3</text>
<text x="537.8" y="1238" fill="#f00000">AUC: 0.825</text>
<line x1="728.6" y1="1349.4" x2="972.6" y2="1105.4" stroke="#a9a9a9" stroke-width="1.1"/>
<path d="M737.64 1340.36 L737.64 1137.03 L850.6 1137.03 L850.6 1114.44 L963.56 1114.44" fill="none" stroke="#f00000" stroke-width="2.1" stroke-linejoin="round" stroke-linecap="round"/>
<rect x="728.6" y="1105.4" width="244" height="244" fill="none" stroke="#141414" stroke-width="1.3" stroke-linejoin="round"/>
<path d="M963.56 1349.4v9M719.6 1340.36h9M918.38 1349.4v9M719.6 1295.18h9M873.19 1349.4v9M719.6 1249.99h9M828.01 1349.4v9M719.6 1204.81h9M782.82 1349.4v9M719.6 1159.62h9M737.64 1349.4v9M719.6 1114.44h9" stroke="#161616" stroke-width="1.2" stroke-linecap="round" fill="none"/>
<text x="953.97" y="1380.9">0.0</text>
<g transform="translate(707.1 1335.36) rotate(-90)"><text x="-14.6" y="0">0.0</text></g>
<text x="908.78" y="1380.9">0.2</text>
<g transform="translate(707.1 1290.18) rotate(-90)"><text x="-14.6" y="0">0.2</text></g>
<text x="863.6" y="1380.9">0.4</text>
<g transform="translate(707.1 1244.99) rotate(-90)"><text x="-14.6" y="0">0.4</text></g>
<text x="818.41" y="1380.9">0.6</text>
<g transform="translate(707.1 1199.81) rotate(-90)"><text x="-14.6" y="0">0.6</text></g>
<text x="773.23" y="1380.9">0.8</text>
<g transform="translate(707.1 1154.62) rotate(-90)"><text x="-14.6" y="0">0.8</text></g>
<text x="728.04" y="1380.9">1.0</text><g fill="#ffffff"><rect x="728.84" y="1378.43" width="4.4" height="3.37"/><rect x="735.26" y="1378.43" width="4.32" height="3.37"/></g>
<g transform="translate(707.1 1109.44) rotate(-90)"><text x="-14.6" y="0">1.0</text><g fill="#ffffff"><rect x="-13.8" y="-2.47" width="4.4" height="3.37"/><rect x="-7.38" y="-2.47" width="4.32" height="3.37"/></g></g>
<text x="865.8" y="1407.4" text-anchor="middle">Specificity</text>
<text transform="translate(680.8 1212.1) rotate(-90)" text-anchor="middle">Sensitivity</text>
<text x="809" y="1092.8" font-weight="bold">SLC25A29</text>
<text x="851.6" y="1238" fill="#f00000">AUC: 0.950</text>
<line x1="1042.7" y1="1349.4" x2="1286.7" y2="1105.4" stroke="#a9a9a9" stroke-width="1.1"/>
<path d="M1051.74 1340.36 L1051.74 1204.81 L1079.98 1204.81 L1079.98 1182.21 L1108.22 1182.21 L1108.22 1114.44 L1277.66 1114.44" fill="none" stroke="#f00000" stroke-width="2.1" stroke-linejoin="round" stroke-linecap="round"/>
<rect x="1042.7" y="1105.4" width="244" height="244" fill="none" stroke="#141414" stroke-width="1.3" stroke-linejoin="round"/>
<path d="M1277.66 1349.4v9M1033.7 1340.36h9M1232.48 1349.4v9M1033.7 1295.18h9M1187.29 1349.4v9M1033.7 1249.99h9M1142.11 1349.4v9M1033.7 1204.81h9M1096.92 1349.4v9M1033.7 1159.62h9M1051.74 1349.4v9M1033.7 1114.44h9" stroke="#161616" stroke-width="1.2" stroke-linecap="round" fill="none"/>
<text x="1268.07" y="1380.9">0.0</text>
<g transform="translate(1021.2 1335.36) rotate(-90)"><text x="-14.6" y="0">0.0</text></g>
<text x="1222.88" y="1380.9">0.2</text>
<g transform="translate(1021.2 1290.18) rotate(-90)"><text x="-14.6" y="0">0.2</text></g>
<text x="1177.7" y="1380.9">0.4</text>
<g transform="translate(1021.2 1244.99) rotate(-90)"><text x="-14.6" y="0">0.4</text></g>
<text x="1132.51" y="1380.9">0.6</text>
<g transform="translate(1021.2 1199.81) rotate(-90)"><text x="-14.6" y="0">0.6</text></g>
<text x="1087.33" y="1380.9">0.8</text>
<g transform="translate(1021.2 1154.62) rotate(-90)"><text x="-14.6" y="0">0.8</text></g>
<text x="1042.14" y="1380.9">1.0</text><g fill="#ffffff"><rect x="1042.94" y="1378.43" width="4.4" height="3.37"/><rect x="1049.36" y="1378.43" width="4.32" height="3.37"/></g>
<g transform="translate(1021.2 1109.44) rotate(-90)"><text x="-14.6" y="0">1.0</text><g fill="#ffffff"><rect x="-13.8" y="-2.47" width="4.4" height="3.37"/><rect x="-7.38" y="-2.47" width="4.32" height="3.37"/></g></g>
<text x="1179.9" y="1407.4" text-anchor="middle">Specificity</text>
<text transform="translate(994.9 1212.1) rotate(-90)" text-anchor="middle">Sensitivity</text>
<text x="1140.66" y="1092.8" font-weight="bold">TRIB2</text>
<text x="1165.7" y="1238" fill="#f00000">AUC: 0.912</text><g fill="#ffffff"><rect x="1251.7" y="1235.53" width="4.4" height="3.37"/><rect x="1258.12" y="1235.53" width="4.32" height="3.37"/></g>
<line x1="1356.8" y1="1349.4" x2="1600.8" y2="1105.4" stroke="#a9a9a9" stroke-width="1.1"/>
<path d="M1365.84 1340.36 L1365.84 1204.81 L1422.32 1204.81 L1422.32 1159.62 L1450.56 1159.62 L1450.56 1114.44 L1591.76 1114.44" fill="none" stroke="#f00000" stroke-width="2.1" stroke-linejoin="round" stroke-linecap="round"/>
<rect x="1356.8" y="1105.4" width="244" height="244" fill="none" stroke="#141414" stroke-width="1.3" stroke-linejoin="round"/>
<path d="M1591.76 1349.4v9M1347.8 1340.36h9M1546.58 1349.4v9M1347.8 1295.18h9M1501.39 1349.4v9M1347.8 1249.99h9M1456.21 1349.4v9M1347.8 1204.81h9M1411.02 1349.4v9M1347.8 1159.62h9M1365.84 1349.4v9M1347.8 1114.44h9" stroke="#161616" stroke-width="1.2" stroke-linecap="round" fill="none"/>
<text x="1582.17" y="1380.9">0.0</text>
<g transform="translate(1335.3 1335.36) rotate(-90)"><text x="-14.6" y="0">0.0</text></g>
<text x="1536.98" y="1380.9">0.2</text>
<g transform="translate(1335.3 1290.18) rotate(-90)"><text x="-14.6" y="0">0.2</text></g>
<text x="1491.8" y="1380.9">0.4</text>
<g transform="translate(1335.3 1244.99) rotate(-90)"><text x="-14.6" y="0">0.4</text></g>
<text x="1446.61" y="1380.9">0.6</text>
<g transform="translate(1335.3 1199.81) rotate(-90)"><text x="-14.6" y="0">0.6</text></g>
<text x="1401.43" y="1380.9">0.8</text>
<g transform="translate(1335.3 1154.62) rotate(-90)"><text x="-14.6" y="0">0.8</text></g>
<text x="1356.24" y="1380.9">1.0</text><g fill="#ffffff"><rect x="1357.04" y="1378.43" width="4.4" height="3.37"/><rect x="1363.46" y="1378.43" width="4.32" height="3.37"/></g>
<g transform="translate(1335.3 1109.44) rotate(-90)"><text x="-14.6" y="0">1.0</text><g fill="#ffffff"><rect x="-13.8" y="-2.47" width="4.4" height="3.37"/><rect x="-7.38" y="-2.47" width="4.32" height="3.37"/></g></g>
<text x="1494" y="1407.4" text-anchor="middle">Specificity</text>
<text transform="translate(1309 1212.1) rotate(-90)" text-anchor="middle">Sensitivity</text>
<text x="1448.4" y="1092.8" font-weight="bold">ZNF436</text>
<text x="1479.8" y="1238" fill="#f00000">AUC: 0.875</text>
</g>
<g font-family="'Liberation Sans', Arial, sans-serif" fill="#000">
<text x="17.9" y="1434.6" font-weight="bold" font-size="21.3">C</text>
<text x="17.8" y="1793.1" font-weight="bold" font-size="21.3">D</text>
<path d="M122.6 1716.6 L122.6 1466.2 L458.8 1466.2" fill="none" stroke="#1f77b4" stroke-opacity="0.3" stroke-width="1.2"/>
<path d="M122.6 1716.6 L122.6 1466.2 L458.8 1466.2" fill="none" stroke="#ff7f0e" stroke-opacity="0.3" stroke-width="1.2"/>
<path d="M122.6 1716.6 L122.6 1466.2 L458.8 1466.2" fill="none" stroke="#2ca02c" stroke-opacity="0.3" stroke-width="1.2"/>
<path d="M122.6 1716.6 L122.6 1466.2 L458.8 1466.2" fill="none" stroke="#d62728" stroke-opacity="0.3" stroke-width="1.2"/>
<path d="M122.6 1716.6 L122.6 1466.2 L458.8 1466.2" fill="none" stroke="#9467bd" stroke-opacity="0.3" stroke-width="1.2"/>
<path d="M122.6 1716.6 L122.6 1466.2 L458.8 1466.2" fill="none" stroke="#8c564b" stroke-opacity="0.3" stroke-width="1.2"/>
<path d="M122.6 1716.6 L122.6 1466.2 L458.8 1466.2" fill="none" stroke="#e377c2" stroke-opacity="0.3" stroke-width="1.2"/>
<path d="M122.6 1716.6 L122.6 1466.2 L458.8 1466.2" fill="none" stroke="#7f7f7f" stroke-opacity="0.3" stroke-width="1.2"/>
<line x1="122.6" y1="1716.6" x2="458.8" y2="1466.2" stroke="#ff0000" stroke-opacity="0.8" stroke-width="2.3" stroke-dasharray="7.6 3.3"/>
<path d="M122.6 1716.6 L124.11 1466.2 L458.8 1466.2" fill="none" stroke="#0000ff" stroke-width="2.4" stroke-linejoin="miter" stroke-linecap="square"/>
<rect x="105.7" y="1453.6" width="369.7" height="275.9" fill="none" stroke="#000" stroke-width="1.2"/>
<path d="M458.8 1729.5v3.6M105.7 1716.6h-3.6M391.56 1729.5v3.6M105.7 1666.52h-3.6M324.32 1729.5v3.6M105.7 1616.44h-3.6M257.08 1729.5v3.6M105.7 1566.36h-3.6M189.84 1729.5v3.6M105.7 1516.28h-3.6M122.6 1729.5v3.6M105.7 1466.2h-3.6" stroke="#000" stroke-width="1" fill="none"/>
<text transform="translate(98.33 1719.93) scale(1.055 1)" text-anchor="end" font-family="'DejaVu Sans', sans-serif" font-size="16.3">0.0</text>
<text transform="translate(97.03 1670.23) scale(1.055 1)" text-anchor="end" font-family="'DejaVu Sans', sans-serif" font-size="16.3">0.2</text>
<text transform="translate(95.33 1620.53) scale(1.055 1)" text-anchor="end" font-family="'DejaVu Sans', sans-serif" font-size="16.3">0.4</text>
<text transform="translate(97.03 1571.33) scale(1.055 1)" text-anchor="end" font-family="'DejaVu Sans', sans-serif" font-size="16.3">0.6</text>
<text transform="translate(96.43 1522.43) scale(1.055 1)" text-anchor="end" font-family="'DejaVu Sans', sans-serif" font-size="16.3">0.8</text>
<text transform="translate(97.73 1470.43) scale(1.055 1)" text-anchor="end" font-family="'DejaVu Sans', sans-serif" font-size="16.3">1.0</text>
<text transform="translate(127.2 1750.6) scale(1.055 1)" text-anchor="middle" font-family="'DejaVu Sans', sans-serif" font-size="16.3">1.0</text>
<text transform="translate(192.5 1750.6) scale(1.055 1)" text-anchor="middle" font-family="'DejaVu Sans', sans-serif" font-size="16.3">0.8</text>
<text transform="translate(258.1 1750.6) scale(1.055 1)" text-anchor="middle" font-family="'DejaVu Sans', sans-serif" font-size="16.3">0.6</text>
<text transform="translate(324.8 1750.6) scale(1.055 1)" text-anchor="middle" font-family="'DejaVu Sans', sans-serif" font-size="16.3">0.4</text>
<text transform="translate(394 1750.6) scale(1.055 1)" text-anchor="middle" font-family="'DejaVu Sans', sans-serif" font-size="16.3">0.2</text>
<text transform="translate(462.2 1750.6) scale(1.055 1)" text-anchor="middle" font-family="'DejaVu Sans', sans-serif" font-size="16.3">0.0</text>
<text x="244.95" y="1771.5" font-size="21.2">Specificity</text>
<text transform="translate(53 1588.3) rotate(-90)" text-anchor="middle" font-size="21.2">Sensitivity</text>
<text x="226.4" y="1447.7" font-size="21">Ten Hub Genes</text>
<rect x="175" y="1474.9" width="295.5" height="248.5" rx="3" fill="#fff" fill-opacity="0.8" stroke="#cccccc" stroke-width="1.1"/>
<line x1="180.2" y1="1487.4" x2="212.3" y2="1487.4" stroke="#1f77b4" stroke-opacity="0.3" stroke-width="1.5"/>
<text x="223.37" y="1492" font-family="'DejaVu Sans', sans-serif" font-size="15.3">ROC fold 0 (AUC = 1.00)</text>
<line x1="180.2" y1="1509.6" x2="212.3" y2="1509.6" stroke="#ff7f0e" stroke-opacity="0.3" stroke-width="1.5"/>
<text x="223.37" y="1514.2" font-family="'DejaVu Sans', sans-serif" font-size="15.3">ROC fold 1 (AUC = 1.00)</text>
<line x1="180.2" y1="1531.8" x2="212.3" y2="1531.8" stroke="#2ca02c" stroke-opacity="0.3" stroke-width="1.5"/>
<text x="223.37" y="1536.4" font-family="'DejaVu Sans', sans-serif" font-size="15.3">ROC fold 2 (AUC = 1.00)</text>
<line x1="180.2" y1="1554" x2="212.3" y2="1554" stroke="#d62728" stroke-opacity="0.3" stroke-width="1.5"/>
<text x="223.37" y="1558.6" font-family="'DejaVu Sans', sans-serif" font-size="15.3">ROC fold 3 (AUC = 1.00)</text>
<line x1="180.2" y1="1576.2" x2="212.3" y2="1576.2" stroke="#9467bd" stroke-opacity="0.3" stroke-width="1.5"/>
<text x="223.37" y="1580.8" font-family="'DejaVu Sans', sans-serif" font-size="15.3">ROC fold 4 (AUC = 1.00)</text>
<line x1="180.2" y1="1598.4" x2="212.3" y2="1598.4" stroke="#8c564b" stroke-opacity="0.3" stroke-width="1.5"/>
<text x="223.37" y="1603" font-family="'DejaVu Sans', sans-serif" font-size="15.3">ROC fold 5 (AUC = 1.00)</text>
<line x1="180.2" y1="1620.6" x2="212.3" y2="1620.6" stroke="#e377c2" stroke-opacity="0.3" stroke-width="1.5"/>
<text x="223.37" y="1625.2" font-family="'DejaVu Sans', sans-serif" font-size="15.3">ROC fold 6 (AUC = 1.00)</text>
<line x1="180.2" y1="1642.8" x2="212.3" y2="1642.8" stroke="#7f7f7f" stroke-opacity="0.3" stroke-width="1.5"/>
<text x="223.37" y="1647.4" font-family="'DejaVu Sans', sans-serif" font-size="15.3">ROC fold 7 (AUC = 1.00)</text>
<line x1="180.7" y1="1665" x2="212.3" y2="1665" stroke="#ff0000" stroke-opacity="0.8" stroke-width="2.3" stroke-dasharray="11 5.3"/>
<text x="223.37" y="1669.6" font-family="'DejaVu Sans', sans-serif" font-size="15.3">Chance</text>
<line x1="180.2" y1="1687.2" x2="212.3" y2="1687.2" stroke="#0000ff" stroke-width="2.8"/>
<text x="223.37" y="1691.8" font-family="'DejaVu Sans', sans-serif" font-size="15.3">Mean ROC (AUC = 1.00 ± 0.00)</text>
<rect x="180.2" y="1703.6" width="32.1" height="11.8" fill="#808080" fill-opacity="0.22"/>
<text x="223.37" y="1714" font-family="'DejaVu Sans', sans-serif" font-size="15.3">± 1 std. dev.</text>
<path d="M123 2076.9 L123 1824.3 L459.2 1824.3" fill="none" stroke="#1f77b4" stroke-opacity="0.3" stroke-width="1.2"/>
<path d="M123 2076.9 L123 1824.3 L459.2 1824.3" fill="none" stroke="#ff7f0e" stroke-opacity="0.3" stroke-width="1.2"/>
<path d="M123 2076.9 L123 1824.3 L459.2 1824.3" fill="none" stroke="#2ca02c" stroke-opacity="0.3" stroke-width="1.2"/>
<line x1="123" y1="2076.9" x2="459.2" y2="1824.3" stroke="#ff0000" stroke-opacity="0.8" stroke-width="2.3" stroke-dasharray="7.6 3.3"/>
<path d="M123 2076.9 L124.51 1824.3 L459.2 1824.3" fill="none" stroke="#0000ff" stroke-width="2.4" stroke-linejoin="miter" stroke-linecap="square"/>
<rect x="106.6" y="1812.2" width="368.7" height="276.6" fill="none" stroke="#000" stroke-width="1.2"/>
<path d="M459.2 2088.8v3.6M106.6 2076.9h-3.6M391.96 2088.8v3.6M106.6 2026.38h-3.6M324.72 2088.8v3.6M106.6 1975.86h-3.6M257.48 2088.8v3.6M106.6 1925.34h-3.6M190.24 2088.8v3.6M106.6 1874.82h-3.6M123 2088.8v3.6M106.6 1824.3h-3.6" stroke="#000" stroke-width="1" fill="none"/>
<text transform="translate(95.73 2079.83) scale(1.055 1)" text-anchor="end" font-family="'DejaVu Sans', sans-serif" font-size="16.3">0.0</text>
<text transform="translate(95.13 2029.63) scale(1.055 1)" text-anchor="end" font-family="'DejaVu Sans', sans-serif" font-size="16.3">0.2</text>
<text transform="translate(92.53 1980.33) scale(1.055 1)" text-anchor="end" font-family="'DejaVu Sans', sans-serif" font-size="16.3">0.4</text>
<text transform="translate(95.13 1931.33) scale(1.055 1)" text-anchor="end" font-family="'DejaVu Sans', sans-serif" font-size="16.3">0.6</text>
<text transform="translate(93.83 1881.53) scale(1.055 1)" text-anchor="end" font-family="'DejaVu Sans', sans-serif" font-size="16.3">0.8</text>
<text transform="translate(95.43 1829.03) scale(1.055 1)" text-anchor="end" font-family="'DejaVu Sans', sans-serif" font-size="16.3">1.0</text>
<text transform="translate(126.9 2108.7) scale(1.055 1)" text-anchor="middle" font-family="'DejaVu Sans', sans-serif" font-size="16.3">1.0</text>
<text transform="translate(192 2108.7) scale(1.055 1)" text-anchor="middle" font-family="'DejaVu Sans', sans-serif" font-size="16.3">0.8</text>
<text transform="translate(257.7 2108.7) scale(1.055 1)" text-anchor="middle" font-family="'DejaVu Sans', sans-serif" font-size="16.3">0.6</text>
<text transform="translate(324.5 2108.7) scale(1.055 1)" text-anchor="middle" font-family="'DejaVu Sans', sans-serif" font-size="16.3">0.4</text>
<text transform="translate(393.5 2108.7) scale(1.055 1)" text-anchor="middle" font-family="'DejaVu Sans', sans-serif" font-size="16.3">0.2</text>
<text transform="translate(461.7 2108.7) scale(1.055 1)" text-anchor="middle" font-family="'DejaVu Sans', sans-serif" font-size="16.3">0.0</text>
<text x="244.65" y="2127.6" font-size="21.2">Specificity</text>
<text transform="translate(54.2 1943.5) rotate(-90)" text-anchor="middle" font-size="21.2">Sensitivity</text>
<text x="226.4" y="1806.2" font-size="21">Ten Hub Genes</text>
<rect x="179.4" y="1946.7" width="291.1" height="137.2" rx="3" fill="#fff" fill-opacity="0.8" stroke="#cccccc" stroke-width="1.1"/>
<line x1="184.8" y1="1959.3" x2="216.1" y2="1959.3" stroke="#1f77b4" stroke-opacity="0.3" stroke-width="1.5"/>
<text x="227" y="1963.9" font-family="'DejaVu Sans', sans-serif" font-size="15.0">ROC fold 0 (AUC = 1.00)</text>
<line x1="184.8" y1="1981.45" x2="216.1" y2="1981.45" stroke="#ff7f0e" stroke-opacity="0.3" stroke-width="1.5"/>
<text x="227" y="1986.05" font-family="'DejaVu Sans', sans-serif" font-size="15.0">ROC fold 1 (AUC = 1.00)</text>
<line x1="184.8" y1="2003.6" x2="216.1" y2="2003.6" stroke="#2ca02c" stroke-opacity="0.3" stroke-width="1.5"/>
<text x="227" y="2008.2" font-family="'DejaVu Sans', sans-serif" font-size="15.0">ROC fold 2 (AUC = 1.00)</text>
<line x1="185.3" y1="2025.75" x2="216.1" y2="2025.75" stroke="#ff0000" stroke-opacity="0.8" stroke-width="2.3" stroke-dasharray="11 5.3"/>
<text x="227" y="2030.35" font-family="'DejaVu Sans', sans-serif" font-size="15.0">Chance</text>
<line x1="184.8" y1="2047.9" x2="216.1" y2="2047.9" stroke="#0000ff" stroke-width="2.8"/>
<text x="227" y="2052.5" font-family="'DejaVu Sans', sans-serif" font-size="15.0">Mean ROC (AUC = 1.00 ± 0.00)</text>
<rect x="184.8" y="2064.25" width="31.3" height="11.8" fill="#808080" fill-opacity="0.22"/>
<text x="227" y="2074.65" font-family="'DejaVu Sans', sans-serif" font-size="15.0">± 1 std. dev.</text>
</g>
<g font-family="'Liberation Sans', Arial, sans-serif" font-size="21" fill="#000">
<text x="615.0" y="1488.3" font-weight="bold" font-size="21.3">E</text>
<text x="669.3" y="1528.5">Points</text>
<text x="669.3" y="1573.4">NRCAM</text>
<text x="669.3" y="1618.7">ATP13A4</text>
<text x="669.3" y="1664.4">TRIB2</text>
<text x="669.3" y="1709.6">SHROOM3</text>
<text x="669.3" y="1755.1">FAM155B</text>
<text x="669.3" y="1800.6">ZNF436</text>
<text x="669.3" y="1845.4">SLC25A29</text>
<text x="669.3" y="1890.7">PDZD8</text>
<text x="669.3" y="1936.5">RAB32</text>
<text x="669.3" y="1981.8">HOXB3</text>
<text x="669.3" y="2027.9">Total Points</text>
<text x="669.3" y="2073.2">RIF Predictor</text>
<path d="M837.9 1522.4H1503.2M837.9 1522.4v-5.4M904.43 1522.4v-5.4M970.96 1522.4v-5.4M1037.49 1522.4v-5.4M1104.02 1522.4v-5.4M1170.55 1522.4v-5.4M1237.08 1522.4v-5.4M1303.61 1522.4v-5.4M1370.14 1522.4v-5.4M1436.67 1522.4v-5.4M1503.2 1522.4v-5.4M854.53 1522.4v-3.2M871.16 1522.4v-3.2M887.8 1522.4v-3.2M921.06 1522.4v-3.2M937.69 1522.4v-3.2M954.33 1522.4v-3.2M987.59 1522.4v-3.2M1004.23 1522.4v-3.2M1020.86 1522.4v-3.2M1054.12 1522.4v-3.2M1070.76 1522.4v-3.2M1087.39 1522.4v-3.2M1120.65 1522.4v-3.2M1137.29 1522.4v-3.2M1153.92 1522.4v-3.2M1187.18 1522.4v-3.2M1203.82 1522.4v-3.2M1220.45 1522.4v-3.2M1253.71 1522.4v-3.2M1270.35 1522.4v-3.2M1286.98 1522.4v-3.2M1320.24 1522.4v-3.2M1336.88 1522.4v-3.2M1353.51 1522.4v-3.2M1386.77 1522.4v-3.2M1403.4 1522.4v-3.2M1420.04 1522.4v-3.2M1453.3 1522.4v-3.2M1469.93 1522.4v-3.2M1486.57 1522.4v-3.2" stroke="#181818" stroke-width="1.15" stroke-linecap="round" stroke-linejoin="round" fill="none"/>
<text x="834.22" y="1509.4">0</text>
<text x="897.07" y="1509.4">10</text><g fill="#ffffff"><rect x="897.87" y="1506.93" width="4.4" height="3.37"/><rect x="904.29" y="1506.93" width="4.32" height="3.37"/></g>
<text x="963.6" y="1509.4">20</text>
<text x="1030.13" y="1509.4">30</text>
<text x="1096.66" y="1509.4">40</text>
<text x="1163.19" y="1509.4">50</text>
<text x="1229.72" y="1509.4">60</text>
<text x="1296.25" y="1509.4">70</text>
<text x="1362.78" y="1509.4">80</text>
<text x="1429.31" y="1509.4">90</text>
<text x="1492.16" y="1509.4">100</text><g fill="#ffffff"><rect x="1492.96" y="1506.93" width="4.4" height="3.37"/><rect x="1499.38" y="1506.93" width="4.32" height="3.37"/></g>
<path d="M837.9 1567.3H1053.9M837.9 1567.3v5.6M859.5 1567.3v5.6M881.1 1567.3v5.6M902.7 1567.3v5.6M924.3 1567.3v5.6M945.9 1567.3v5.6M967.5 1567.3v5.6M989.1 1567.3v5.6M1010.7 1567.3v5.6M1032.3 1567.3v5.6M1053.9 1567.3v5.6" stroke="#181818" stroke-width="1.15" stroke-linecap="round" stroke-linejoin="round" fill="none"/>
<text x="834.22" y="1589.9">5</text>
<text x="877.42" y="1589.9">6</text>
<text x="920.62" y="1589.9">7</text>
<text x="963.82" y="1589.9">8</text>
<text x="1007.02" y="1589.9">9</text>
<text x="1046.54" y="1589.9">10</text><g fill="#ffffff"><rect x="1047.34" y="1587.43" width="4.4" height="3.37"/><rect x="1053.76" y="1587.43" width="4.32" height="3.37"/></g>
<path d="M837.9 1612.6H939.7M837.9 1612.6v5.6M847.15 1612.6v5.6M856.41 1612.6v5.6M865.66 1612.6v5.6M874.92 1612.6v5.6M884.17 1612.6v5.6M893.43 1612.6v5.6M902.68 1612.6v5.6M911.94 1612.6v5.6M921.19 1612.6v5.6M930.45 1612.6v5.6M939.7 1612.6v5.6" stroke="#181818" stroke-width="1.15" stroke-linecap="round" stroke-linejoin="round" fill="none"/>
<text x="834.22" y="1635.2">4</text>
<text x="856.47" y="1635.2">5.5</text>
<text x="889.75" y="1635.2">7</text>
<text x="911.99" y="1635.2">8.5</text>
<path d="M837.9 1658.3H875.8M837.9 1658.3v5.6M841.35 1658.3v5.6M844.79 1658.3v5.6M848.24 1658.3v5.6M851.68 1658.3v5.6M855.13 1658.3v5.6M858.57 1658.3v5.6M862.02 1658.3v5.6M865.46 1658.3v5.6M868.91 1658.3v5.6M872.35 1658.3v5.6M875.8 1658.3v5.6" stroke="#181818" stroke-width="1.15" stroke-linecap="round" stroke-linejoin="round" fill="none"/>
<text x="834.22" y="1680.9">9</text>
<text x="854.89" y="1680.9">6</text>
<path d="M837.7 1703.5H1214.5M837.7 1703.5v5.6M879.57 1703.5v5.6M921.43 1703.5v5.6M963.3 1703.5v5.6M1005.17 1703.5v5.6M1047.03 1703.5v5.6M1088.9 1703.5v5.6M1130.77 1703.5v5.6M1172.63 1703.5v5.6M1214.5 1703.5v5.6" stroke="#181818" stroke-width="1.15" stroke-linecap="round" stroke-linejoin="round" fill="none"/>
<text x="834.02" y="1726.1">7</text>
<text x="870.37" y="1726.1">7.5</text>
<text x="917.75" y="1726.1">8</text>
<text x="954.1" y="1726.1">8.5</text>
<text x="1001.49" y="1726.1">9</text>
<text x="1037.84" y="1726.1">9.5</text>
<text x="1081.54" y="1726.1">10</text><g fill="#ffffff"><rect x="1082.34" y="1723.63" width="4.4" height="3.37"/><rect x="1088.76" y="1723.63" width="4.32" height="3.37"/></g>
<text x="1117.89" y="1726.1">10.5</text><g fill="#ffffff"><rect x="1118.69" y="1723.63" width="4.4" height="3.37"/><rect x="1125.11" y="1723.63" width="4.32" height="3.37"/></g>
<text x="1165.77" y="1726.1">11</text><g fill="#ffffff"><rect x="1166.57" y="1723.63" width="4.4" height="3.37"/><rect x="1172.98" y="1723.63" width="4.32" height="3.37"/><rect x="1178.25" y="1723.63" width="4.4" height="3.37"/><rect x="1184.66" y="1723.63" width="4.32" height="3.37"/></g>
<text x="1202.12" y="1726.1">11.5</text><g fill="#ffffff"><rect x="1202.92" y="1723.63" width="4.4" height="3.37"/><rect x="1209.33" y="1723.63" width="4.32" height="3.37"/><rect x="1214.6" y="1723.63" width="4.4" height="3.37"/><rect x="1221.01" y="1723.63" width="4.32" height="3.37"/></g>
<path d="M837.9 1749H1503.3M837.9 1749v5.6M889.08 1749v5.6M940.27 1749v5.6M991.45 1749v5.6M1042.64 1749v5.6M1093.82 1749v5.6M1145.01 1749v5.6M1196.19 1749v5.6M1247.38 1749v5.6M1298.56 1749v5.6M1349.75 1749v5.6M1400.93 1749v5.6M1452.12 1749v5.6M1503.3 1749v5.6" stroke="#181818" stroke-width="1.15" stroke-linecap="round" stroke-linejoin="round" fill="none"/>
<text x="825.02" y="1771.6">14.5</text><g fill="#ffffff"><rect x="825.82" y="1769.13" width="4.4" height="3.37"/><rect x="832.24" y="1769.13" width="4.32" height="3.37"/></g>
<text x="881.73" y="1771.6">14</text><g fill="#ffffff"><rect x="882.53" y="1769.13" width="4.4" height="3.37"/><rect x="888.94" y="1769.13" width="4.32" height="3.37"/></g>
<text x="927.39" y="1771.6">13.5</text><g fill="#ffffff"><rect x="928.19" y="1769.13" width="4.4" height="3.37"/><rect x="934.61" y="1769.13" width="4.32" height="3.37"/></g>
<text x="984.1" y="1771.6">13</text><g fill="#ffffff"><rect x="984.9" y="1769.13" width="4.4" height="3.37"/><rect x="991.31" y="1769.13" width="4.32" height="3.37"/></g>
<text x="1029.76" y="1771.6">12.5</text><g fill="#ffffff"><rect x="1030.56" y="1769.13" width="4.4" height="3.37"/><rect x="1036.98" y="1769.13" width="4.32" height="3.37"/></g>
<text x="1086.46" y="1771.6">12</text><g fill="#ffffff"><rect x="1087.26" y="1769.13" width="4.4" height="3.37"/><rect x="1093.68" y="1769.13" width="4.32" height="3.37"/></g>
<text x="1132.62" y="1771.6">11.5</text><g fill="#ffffff"><rect x="1133.42" y="1769.13" width="4.4" height="3.37"/><rect x="1139.84" y="1769.13" width="4.32" height="3.37"/><rect x="1145.1" y="1769.13" width="4.4" height="3.37"/><rect x="1151.52" y="1769.13" width="4.32" height="3.37"/></g>
<text x="1189.33" y="1771.6">11</text><g fill="#ffffff"><rect x="1190.12" y="1769.13" width="4.4" height="3.37"/><rect x="1196.54" y="1769.13" width="4.32" height="3.37"/><rect x="1201.8" y="1769.13" width="4.4" height="3.37"/><rect x="1208.22" y="1769.13" width="4.32" height="3.37"/></g>
<text x="1234.5" y="1771.6">10.5</text><g fill="#ffffff"><rect x="1235.3" y="1769.13" width="4.4" height="3.37"/><rect x="1241.72" y="1769.13" width="4.32" height="3.37"/></g>
<text x="1291.2" y="1771.6">10</text><g fill="#ffffff"><rect x="1292" y="1769.13" width="4.4" height="3.37"/><rect x="1298.42" y="1769.13" width="4.32" height="3.37"/></g>
<text x="1340.55" y="1771.6">9.5</text>
<text x="1397.25" y="1771.6">9</text>
<text x="1442.92" y="1771.6">8.5</text>
<text x="1499.62" y="1771.6">8</text>
<path d="M837.9 1794.5H1163.9M837.9 1794.5v5.6M884.47 1794.5v5.6M931.04 1794.5v5.6M977.61 1794.5v5.6M1024.19 1794.5v5.6M1070.76 1794.5v5.6M1117.33 1794.5v5.6M1163.9 1794.5v5.6" stroke="#181818" stroke-width="1.15" stroke-linecap="round" stroke-linejoin="round" fill="none"/>
<text x="828.7" y="1817.1">5.5</text>
<text x="880.79" y="1817.1">6</text>
<text x="921.85" y="1817.1">6.5</text>
<text x="973.94" y="1817.1">7</text>
<text x="1014.99" y="1817.1">7.5</text>
<text x="1067.08" y="1817.1">8</text>
<text x="1108.13" y="1817.1">8.5</text>
<text x="1160.22" y="1817.1">9</text>
<path d="M837.9 1839.3H1152.5M837.9 1839.3v5.6M872.86 1839.3v5.6M907.81 1839.3v5.6M942.77 1839.3v5.6M977.72 1839.3v5.6M1012.68 1839.3v5.6M1047.63 1839.3v5.6M1082.59 1839.3v5.6M1117.54 1839.3v5.6M1152.5 1839.3v5.6" stroke="#181818" stroke-width="1.15" stroke-linecap="round" stroke-linejoin="round" fill="none"/>
<text x="831.03" y="1861.9">11</text><g fill="#ffffff"><rect x="831.83" y="1859.43" width="4.4" height="3.37"/><rect x="838.25" y="1859.43" width="4.32" height="3.37"/><rect x="843.51" y="1859.43" width="4.4" height="3.37"/><rect x="849.93" y="1859.43" width="4.32" height="3.37"/></g>
<text x="860.47" y="1861.9">11.5</text><g fill="#ffffff"><rect x="861.27" y="1859.43" width="4.4" height="3.37"/><rect x="867.69" y="1859.43" width="4.32" height="3.37"/><rect x="872.95" y="1859.43" width="4.4" height="3.37"/><rect x="879.37" y="1859.43" width="4.32" height="3.37"/></g>
<text x="900.45" y="1861.9">12</text><g fill="#ffffff"><rect x="901.25" y="1859.43" width="4.4" height="3.37"/><rect x="907.67" y="1859.43" width="4.32" height="3.37"/></g>
<text x="929.89" y="1861.9">12.5</text><g fill="#ffffff"><rect x="930.69" y="1859.43" width="4.4" height="3.37"/><rect x="937.11" y="1859.43" width="4.32" height="3.37"/></g>
<text x="970.36" y="1861.9">13</text><g fill="#ffffff"><rect x="971.16" y="1859.43" width="4.4" height="3.37"/><rect x="977.58" y="1859.43" width="4.32" height="3.37"/></g>
<text x="999.8" y="1861.9">13.5</text><g fill="#ffffff"><rect x="1000.6" y="1859.43" width="4.4" height="3.37"/><rect x="1007.02" y="1859.43" width="4.32" height="3.37"/></g>
<text x="1040.28" y="1861.9">14</text><g fill="#ffffff"><rect x="1041.07" y="1859.43" width="4.4" height="3.37"/><rect x="1047.49" y="1859.43" width="4.32" height="3.37"/></g>
<text x="1069.71" y="1861.9">14.5</text><g fill="#ffffff"><rect x="1070.51" y="1859.43" width="4.4" height="3.37"/><rect x="1076.93" y="1859.43" width="4.32" height="3.37"/></g>
<text x="1110.19" y="1861.9">15</text><g fill="#ffffff"><rect x="1110.99" y="1859.43" width="4.4" height="3.37"/><rect x="1117.4" y="1859.43" width="4.32" height="3.37"/></g>
<text x="1139.62" y="1861.9">15.5</text><g fill="#ffffff"><rect x="1140.42" y="1859.43" width="4.4" height="3.37"/><rect x="1146.84" y="1859.43" width="4.32" height="3.37"/></g>
<path d="M837.9 1884.6H1155.8M837.9 1884.6v5.6M883.31 1884.6v5.6M928.73 1884.6v5.6M974.14 1884.6v5.6M1019.56 1884.6v5.6M1064.97 1884.6v5.6M1110.39 1884.6v5.6M1155.8 1884.6v5.6" stroke="#181818" stroke-width="1.15" stroke-linecap="round" stroke-linejoin="round" fill="none"/>
<text x="825.02" y="1907.2">10.5</text><g fill="#ffffff"><rect x="825.82" y="1904.73" width="4.4" height="3.37"/><rect x="832.24" y="1904.73" width="4.32" height="3.37"/></g>
<text x="876.45" y="1907.2">11</text><g fill="#ffffff"><rect x="877.25" y="1904.73" width="4.4" height="3.37"/><rect x="883.66" y="1904.73" width="4.32" height="3.37"/><rect x="888.93" y="1904.73" width="4.4" height="3.37"/><rect x="895.34" y="1904.73" width="4.32" height="3.37"/></g>
<text x="916.34" y="1907.2">11.5</text><g fill="#ffffff"><rect x="917.14" y="1904.73" width="4.4" height="3.37"/><rect x="923.56" y="1904.73" width="4.32" height="3.37"/><rect x="928.82" y="1904.73" width="4.4" height="3.37"/><rect x="935.24" y="1904.73" width="4.32" height="3.37"/></g>
<text x="966.78" y="1907.2">12</text><g fill="#ffffff"><rect x="967.58" y="1904.73" width="4.4" height="3.37"/><rect x="974" y="1904.73" width="4.32" height="3.37"/></g>
<text x="1006.68" y="1907.2">12.5</text><g fill="#ffffff"><rect x="1007.48" y="1904.73" width="4.4" height="3.37"/><rect x="1013.9" y="1904.73" width="4.32" height="3.37"/></g>
<text x="1057.61" y="1907.2">13</text><g fill="#ffffff"><rect x="1058.41" y="1904.73" width="4.4" height="3.37"/><rect x="1064.83" y="1904.73" width="4.32" height="3.37"/></g>
<text x="1097.51" y="1907.2">13.5</text><g fill="#ffffff"><rect x="1098.31" y="1904.73" width="4.4" height="3.37"/><rect x="1104.73" y="1904.73" width="4.32" height="3.37"/></g>
<text x="1148.44" y="1907.2">14</text><g fill="#ffffff"><rect x="1149.24" y="1904.73" width="4.4" height="3.37"/><rect x="1155.66" y="1904.73" width="4.32" height="3.37"/></g>
<path d="M837.9 1930.4H1039.3M837.9 1930.4v5.6M852.29 1930.4v5.6M866.67 1930.4v5.6M881.06 1930.4v5.6M895.44 1930.4v5.6M909.83 1930.4v5.6M924.21 1930.4v5.6M938.6 1930.4v5.6M952.99 1930.4v5.6M967.37 1930.4v5.6M981.76 1930.4v5.6M996.14 1930.4v5.6M1010.53 1930.4v5.6M1024.91 1930.4v5.6M1039.3 1930.4v5.6" stroke="#181818" stroke-width="1.15" stroke-linecap="round" stroke-linejoin="round" fill="none"/>
<text x="825.02" y="1953">10.4</text><g fill="#ffffff"><rect x="825.82" y="1950.53" width="4.4" height="3.37"/><rect x="832.24" y="1950.53" width="4.32" height="3.37"/></g>
<text x="871.86" y="1953">9.8</text>
<text x="915.02" y="1953">9.2</text>
<text x="958.18" y="1953">8.6</text>
<text x="1006.85" y="1953">8</text>
<text x="1030.1" y="1953">7.6</text>
<path d="M838 1975.7H880.4M838 1975.7v5.6M843.3 1975.7v5.6M848.6 1975.7v5.6M853.9 1975.7v5.6M859.2 1975.7v5.6M864.5 1975.7v5.6M869.8 1975.7v5.6M875.1 1975.7v5.6M880.4 1975.7v5.6" stroke="#181818" stroke-width="1.15" stroke-linecap="round" stroke-linejoin="round" fill="none"/>
<text x="828.8" y="1998.3">6.5</text>
<text x="860.82" y="1998.3">9</text>
<path d="M837.9 2021.8H1503.2M837.9 2021.8v5.7M885.42 2021.8v5.7M932.94 2021.8v5.7M980.46 2021.8v5.7M1027.99 2021.8v5.7M1075.51 2021.8v5.7M1123.03 2021.8v5.7M1170.55 2021.8v5.7M1218.07 2021.8v5.7M1265.59 2021.8v5.7M1313.11 2021.8v5.7M1360.64 2021.8v5.7M1408.16 2021.8v5.7M1455.68 2021.8v5.7M1503.2 2021.8v5.7M847.4 2021.8v3.2M856.91 2021.8v3.2M866.41 2021.8v3.2M875.92 2021.8v3.2M894.93 2021.8v3.2M904.43 2021.8v3.2M913.93 2021.8v3.2M923.44 2021.8v3.2M942.45 2021.8v3.2M951.95 2021.8v3.2M961.46 2021.8v3.2M970.96 2021.8v3.2M989.97 2021.8v3.2M999.47 2021.8v3.2M1008.98 2021.8v3.2M1018.48 2021.8v3.2M1037.49 2021.8v3.2M1046.99 2021.8v3.2M1056.5 2021.8v3.2M1066 2021.8v3.2M1085.01 2021.8v3.2M1094.52 2021.8v3.2M1104.02 2021.8v3.2M1113.52 2021.8v3.2M1132.53 2021.8v3.2M1142.04 2021.8v3.2M1151.54 2021.8v3.2M1161.05 2021.8v3.2M1180.05 2021.8v3.2M1189.56 2021.8v3.2M1199.06 2021.8v3.2M1208.57 2021.8v3.2M1227.58 2021.8v3.2M1237.08 2021.8v3.2M1246.58 2021.8v3.2M1256.09 2021.8v3.2M1275.1 2021.8v3.2M1284.6 2021.8v3.2M1294.11 2021.8v3.2M1303.61 2021.8v3.2M1322.62 2021.8v3.2M1332.12 2021.8v3.2M1341.63 2021.8v3.2M1351.13 2021.8v3.2M1370.14 2021.8v3.2M1379.64 2021.8v3.2M1389.15 2021.8v3.2M1398.65 2021.8v3.2M1417.66 2021.8v3.2M1427.17 2021.8v3.2M1436.67 2021.8v3.2M1446.17 2021.8v3.2M1465.18 2021.8v3.2M1474.69 2021.8v3.2M1484.19 2021.8v3.2M1493.7 2021.8v3.2" stroke="#181818" stroke-width="1.15" stroke-linecap="round" stroke-linejoin="round" fill="none"/>
<text x="834.22" y="2044.6">0</text>
<text x="878.06" y="2044.6">20</text>
<text x="925.58" y="2044.6">40</text>
<text x="973.11" y="2044.6">60</text>
<text x="1020.63" y="2044.6">80</text>
<text x="1064.47" y="2044.6">100</text><g fill="#ffffff"><rect x="1065.27" y="2042.13" width="4.4" height="3.37"/><rect x="1071.69" y="2042.13" width="4.32" height="3.37"/></g>
<text x="1111.99" y="2044.6">120</text><g fill="#ffffff"><rect x="1112.79" y="2042.13" width="4.4" height="3.37"/><rect x="1119.21" y="2042.13" width="4.32" height="3.37"/></g>
<text x="1159.51" y="2044.6">140</text><g fill="#ffffff"><rect x="1160.31" y="2042.13" width="4.4" height="3.37"/><rect x="1166.73" y="2042.13" width="4.32" height="3.37"/></g>
<text x="1207.03" y="2044.6">160</text><g fill="#ffffff"><rect x="1207.83" y="2042.13" width="4.4" height="3.37"/><rect x="1214.25" y="2042.13" width="4.32" height="3.37"/></g>
<text x="1254.56" y="2044.6">180</text><g fill="#ffffff"><rect x="1255.36" y="2042.13" width="4.4" height="3.37"/><rect x="1261.77" y="2042.13" width="4.32" height="3.37"/></g>
<text x="1302.08" y="2044.6">200</text>
<text x="1349.6" y="2044.6">220</text>
<text x="1397.12" y="2044.6">240</text>
<text x="1444.64" y="2044.6">260</text>
<text x="1492.16" y="2044.6">280</text>
<path d="M1261.5 2067.1H1335.5M1261.5 2067.1v5.5M1298.6 2067.1v5.5M1335.5 2067.1v5.5" stroke="#181818" stroke-width="1.15" stroke-linecap="round" stroke-linejoin="round" fill="none"/>
<text x="1224.6" y="2091">0.001</text><g fill="#ffffff"><rect x="1266.27" y="2088.53" width="4.4" height="3.37"/><rect x="1272.69" y="2088.53" width="4.32" height="3.37"/></g>
<text x="1288.3" y="2091">0.5</text>
<text x="1317.6" y="2091">0.999</text>
</g>
</svg>
</body></html>
